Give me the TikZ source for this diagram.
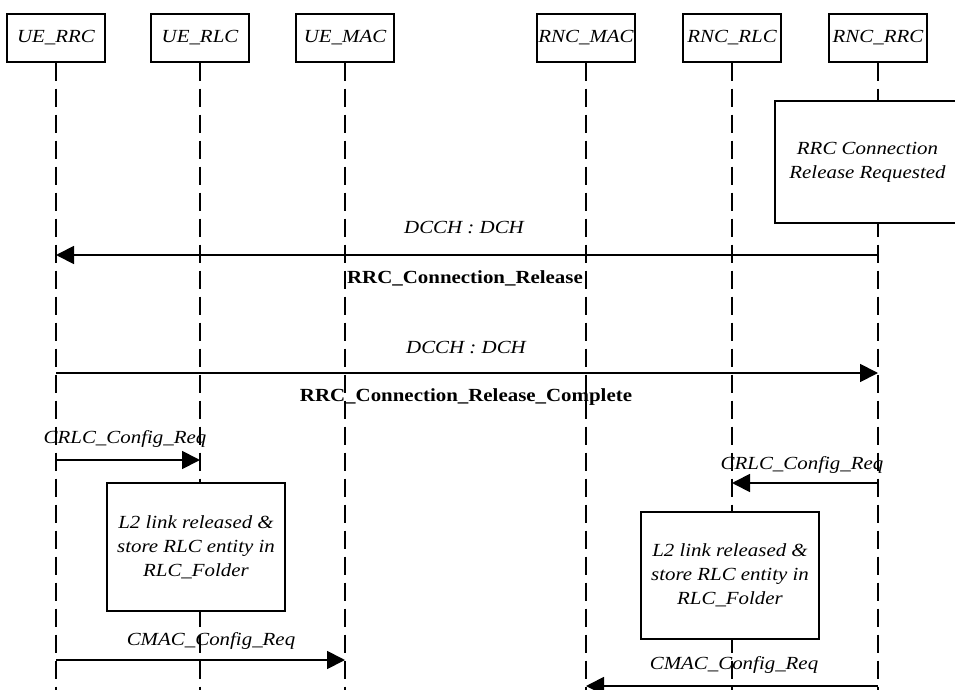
\documentclass[tikz,border=0pt]{standalone}
\usepackage{fontspec}
\setmainfont{Liberation Serif}[FakeStretch=1.13]
\usetikzlibrary{arrows.meta,positioning}

\begin{document}
\begin{tikzpicture}[
  x=1pt, y=-1pt,
  font=\fontsize{18.5}{24}\selectfont\itshape,
  entity/.style={draw, line width=1.4pt, minimum width=98pt, minimum height=48pt, inner sep=1pt},
  life/.style={line width=1.2pt, dash pattern=on 18pt off 8pt},
  proc/.style={draw, fill=white, line width=1.4pt, align=center, minimum width=178pt, minimum height=128pt},
  msg/.style={line width=1.8pt, -{Triangle[length=18pt, width=18pt]}},
  lbl/.style={inner sep=0pt},
  msgname/.style={inner sep=0pt, font=\fontsize{18.5}{24}\selectfont\bfseries}
]
\clip (0,0) rectangle (955,690);
\fill[white] (0,0) rectangle (955,690);

% entities
\node[entity] (uerrc)  at (56,38)  {UE\_RRC};
\node[entity] (uerlc)  at (200,38) {UE\_RLC};
\node[entity] (uemac)  at (345,38) {UE\_MAC};
\node[entity] (rncmac) at (586,38) {RNC\_MAC};
\node[entity] (rncrlc) at (732,38) {RNC\_RLC};
\node[entity] (rncrrc) at (878,38) {RNC\_RRC};

% lifelines
\coordinate (bot) at (0,700);
\foreach \n in {uerrc,uerlc,uemac,rncmac,rncrlc,rncrrc}
  \draw[life] (\n.south) -- (\n.south |- bot);

% local processing
\node[proc, minimum width=185pt, minimum height=122pt] (relreq) at (867.5,162)
  {RRC Connection\\Release Requested};
\node[proc] (uel2) at (196,547) {L2 link released \&\\store RLC entity in\\RLC\_Folder};
\node[proc, minimum height=127pt] (rncl2) at (730,575.5) {L2 link released \&\\store RLC entity in\\RLC\_Folder};

% message levels
\coordinate (m1) at (0,255);
\coordinate (m2) at (0,373);
\coordinate (m3) at (0,460);
\coordinate (m4) at (0,483);
\coordinate (m5) at (0,660);
\coordinate (m6) at (0,686);

\draw[msg] (rncrrc |- m1) -- (uerrc |- m1);
\node[lbl] (ch1) at (464,228) {DCCH : DCH};
\node[msgname] (rel) at (465,278) {RRC\_Connection\_Release};

\draw[msg] (uerrc |- m2) -- (rncrrc |- m2);
\node[lbl] (ch2) at (466,348) {DCCH : DCH};
\node[msgname] (relc) at (466,397) {RRC\_Connection\_Release\_Complete};

\draw[msg] (uerrc |- m3) -- (uerlc |- m3);
\node[lbl] (uecrlc) at (125,439) {CRLC\_Config\_Req};

\draw[msg] (rncrrc |- m4) -- (rncrlc |- m4);
\node[lbl] (rnccrlc) at (802,465) {CRLC\_Config\_Req};

\draw[msg] (uerrc |- m5) -- (uemac |- m5);
\node[lbl] (uecmac) at (211,641) {CMAC\_Config\_Req};

\draw[msg] (rncrrc |- m6) -- (rncmac |- m6);
\node[lbl] (rnccmac) at (734,665) {CMAC\_Config\_Req};
\end{tikzpicture}
\end{document}
